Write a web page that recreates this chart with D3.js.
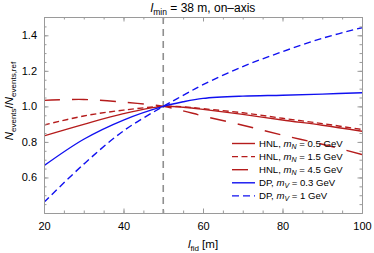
<!DOCTYPE html>
<html>
<head>
<meta charset="utf-8">
<script src="https://cdn.jsdelivr.net/npm/d3@7"></script>
<style>
  body { margin: 0; background: #fff; }
  svg { font-family: "Liberation Sans", Arial, sans-serif; }
</style>
</head>
<body>
<div id="chart"></div>
<script>
// values
const lfid = [20, 30, 40, 50, 55, 60, 70, 80, 90, 100];
const hnl05 = [0.834, 0.899, 0.959, 1.0, 0.995, 0.983, 0.955, 0.923, 0.894, 0.860];
const hnl15 = [0.895, 0.946, 0.979, 1.0, 0.997, 0.987, 0.964, 0.933, 0.903, 0.870];
const hnl45 = [1.034, 1.039, 1.024, 1.0, 0.975, 0.946, 0.894, 0.838, 0.787, 0.729];
const dp03 = [0.666, 0.815, 0.923, 1.0, 1.026, 1.045, 1.058, 1.063, 1.069, 1.077];
const dp1 = [0.46, 0.675, 0.862, 1.0, 1.062, 1.122, 1.224, 1.308, 1.383, 1.443];

const seriesNames = ["HNL", "HNL", "HNL", "DP", "DP"];
const massSym = ["N", "N", "N", "V", "V"];
const massVals = ["0.5", "1.5", "4.5", "0.3", "1"];
const seriesVals = [hnl05, hnl15, hnl45, dp03, dp1];
const seriesColor = ["#b51c1c", "#b51c1c", "#b51c1c", "#1010f0", "#1010f0"];
const seriesDash = [null, "6,3.5", "16,12", null, "7,4"];

const xTicks = [20, 40, 60, 80, 100];
const yTicks = [0.6, 0.8, 1.0, 1.2, 1.4];
const lRef = 50;

const W = 374, H = 253;
const margin = { top: 17, right: 12, bottom: 40, left: 44 };
const width = W - margin.left - margin.right;
const height = H - margin.top - margin.bottom;

const svg = d3.select("#chart").append("svg")
  .attr("width", W).attr("height", H);

const g = svg.append("g")
  .attr("transform", `translate(${margin.left},${margin.top})`);

const x = d3.scaleLinear().domain([20, 100]).range([0, width]);
const y = d3.scaleLinear().domain([0.4, 1.503]).range([height, 0]);

g.append("clipPath").attr("id", "clip")
  .append("rect").attr("width", width).attr("height", height);

// reference line
g.append("line")
  .attr("x1", x(lRef)).attr("x2", x(lRef))
  .attr("y1", 0).attr("y2", height)
  .attr("stroke", "#8f8f8f").attr("stroke-width", 1.6)
  .attr("stroke-dasharray", "7,5");

// curves
const line = d3.line()
  .x((d, i) => x(lfid[i]))
  .y(d => y(d))
  .curve(d3.curveCatmullRom);

seriesVals.forEach((vals, k) => {
  g.append("path")
    .datum(vals)
    .attr("clip-path", "url(#clip)")
    .attr("fill", "none")
    .attr("stroke", seriesColor[k])
    .attr("stroke-width", 1.4)
    .attr("stroke-dasharray", seriesDash[k])
    .attr("d", line);
});

// frame with inward ticks on all sides
const frameCol = "#9a9a9a";
function styleAxis(sel) {
  sel.select(".domain").attr("stroke", frameCol);
  sel.selectAll(".tick line").attr("stroke", frameCol);
  sel.selectAll(".tick text").attr("fill", "#000").style("font-size", "11px");
}
const xMinor = d3.range(20, 101, 5);
const yMinor = d3.range(0.45, 1.5, 0.05);

function addAxis(axis, transform, labels) {
  const a = g.append("g").attr("transform", transform).call(axis);
  styleAxis(a);
  if (!labels) a.selectAll(".tick text").remove();
  return a;
}

// minor ticks
addAxis(d3.axisBottom(x).tickValues(xMinor).tickSizeInner(-2.5).tickSizeOuter(0), `translate(0,${height})`, false);
addAxis(d3.axisTop(x).tickValues(xMinor).tickSizeInner(-2.5).tickSizeOuter(0), "translate(0,0)", false);
addAxis(d3.axisLeft(y).tickValues(yMinor).tickSizeInner(-2.5).tickSizeOuter(0), "translate(0,0)", false);
addAxis(d3.axisRight(y).tickValues(yMinor).tickSizeInner(-2.5).tickSizeOuter(0), `translate(${width},0)`, false);

// major ticks
addAxis(d3.axisBottom(x).tickValues(xTicks).tickSizeInner(-4.5).tickSizeOuter(0).tickPadding(9), `translate(0,${height})`, true);
addAxis(d3.axisTop(x).tickValues(xTicks).tickSizeInner(-4.5).tickSizeOuter(0), "translate(0,0)", false);
addAxis(d3.axisLeft(y).tickValues(yTicks).tickSizeInner(-4.5).tickSizeOuter(0).tickPadding(7).tickFormat(d3.format(".1f")), "translate(0,0)", true);
addAxis(d3.axisRight(y).tickValues(yTicks).tickSizeInner(-4.5).tickSizeOuter(0), `translate(${width},0)`, false);

// legend
const legX = 232 - margin.left, legY = 143.5 - margin.top, legStep = 13.1;
seriesVals.forEach((vals, k) => {
  const ly = legY + k * legStep;
  g.append("line")
    .attr("x1", legX).attr("x2", legX + 23)
    .attr("y1", ly).attr("y2", ly)
    .attr("stroke", seriesColor[k]).attr("stroke-width", 1.4)
    .attr("stroke-dasharray", seriesDash[k]);
  const t = g.append("text")
    .attr("x", legX + 27).attr("y", ly + 3.5)
    .style("font-size", "9.6px");
  t.append("tspan").text(seriesNames[k] + ", ");
  t.append("tspan").attr("font-style", "italic").text("m");
  t.append("tspan").attr("font-style", "italic").attr("font-size", "7px").attr("dy", 2).text(massSym[k]);
  t.append("tspan").attr("dy", -2).text(" = " + massVals[k] + " GeV");
});

// title
const title = svg.append("text")
  .attr("x", 203).attr("y", 12)
  .attr("text-anchor", "middle")
  .style("font-size", "12px");
title.append("tspan").attr("font-style", "italic").text("l");
title.append("tspan").attr("font-size", "8.5px").attr("dy", 2.5).text("min");
title.append("tspan").attr("dy", -2.5).text(" = 38 m, on\u2013axis");

// x label
const xl = svg.append("text")
  .attr("x", 203).attr("y", 248)
  .attr("text-anchor", "middle")
  .style("font-size", "11.5px");
xl.append("tspan").attr("font-style", "italic").text("l");
xl.append("tspan").attr("font-size", "8px").attr("dy", 2.5).text("fid");
xl.append("tspan").attr("dy", -2.5).text(" [m]");

// y label
const yl = svg.append("text")
  .attr("transform", `translate(13,${margin.top + y(1.03)}) rotate(-90)`)
  .attr("text-anchor", "middle")
  .style("font-size", "11.5px");
yl.append("tspan").attr("font-style", "italic").text("N");
yl.append("tspan").attr("font-size", "8px").attr("dy", 2.5).text("events");
yl.append("tspan").attr("dy", -2.5).text("/");
yl.append("tspan").attr("font-style", "italic").text("N");
yl.append("tspan").attr("font-size", "8px").attr("dy", 2.5).text("events,ref");
</script>
</body>
</html>
